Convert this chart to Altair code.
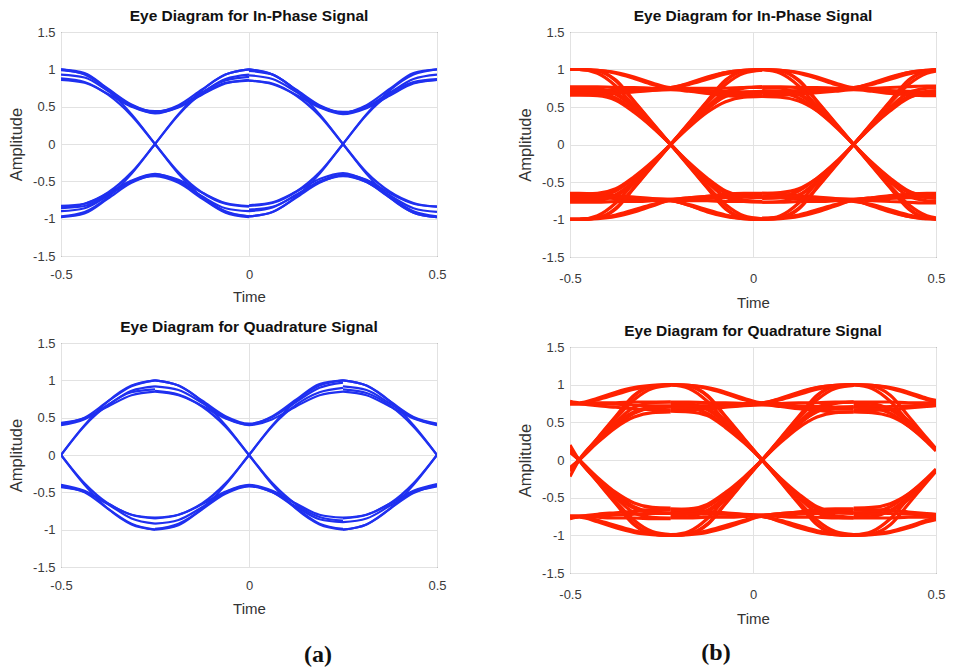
import altair as alt
import pandas as pd

# ---------------- x sample grids ----------------
BI_X_LEFT = [-0.5, -0.4375, -0.375, -0.3125, -0.25, -0.1875, -0.125, -0.0625, 0.0]
BI_X_RIGHT = [0.0, 0.0625, 0.125, 0.1875, 0.25, 0.3125, 0.375, 0.4375, 0.5]
BQ_X_LEFT = [-0.5, -0.4375, -0.375, -0.3125, -0.25]
BQ_X_MID = [-0.25, -0.1875, -0.125, -0.0625, 0.0, 0.0625, 0.125, 0.1875, 0.25]
BQ_X_RIGHT = [0.25, 0.3125, 0.375, 0.4375, 0.5]
RI_X_LEFT = [-0.5, -0.475, -0.425, -0.375, -0.325, -0.275, -0.225, -0.175, -0.125, -0.075, -0.025, 0.025]
RI_X_RIGHT = [0.025, 0.075, 0.125, 0.175, 0.225, 0.275, 0.325, 0.375, 0.425, 0.475, 0.5]
RQ_X_LEFT = [-0.5, -0.475, -0.425, -0.375, -0.325, -0.275, -0.225]
RQ_X_MID = [-0.225, -0.175, -0.125, -0.075, -0.025, 0.025, 0.075, 0.125, 0.175, 0.225, 0.275]
RQ_X_RIGHT = [0.275, 0.325, 0.375, 0.425, 0.475, 0.5]

# ---------------- (a) blue, in-phase ----------------
blue_i_left = [
    [1.00, 0.95, 0.74, 0.53, 0.43, 0.52, 0.73, 0.93, 1.00],
    [0.86, 0.82, 0.67, 0.50, 0.41, 0.50, 0.69, 0.87, 0.93],
    [0.93, 0.89, 0.71, 0.51, 0.42, 0.49, 0.66, 0.81, 0.86],
    [0.99, 0.94, 0.73, 0.52, 0.44, 0.50, 0.67, 0.82, 0.85],
    [-0.98, -0.93, -0.73, -0.52, -0.42, -0.50, -0.70, -0.86, -0.90],
    [-0.83, -0.80, -0.66, -0.49, -0.40, -0.50, -0.71, -0.90, -0.97],
    [-0.90, -0.86, -0.69, -0.50, -0.41, -0.48, -0.65, -0.79, -0.83],
    [-0.86, -0.83, -0.68, -0.50, -0.43, -0.52, -0.73, -0.92, -0.98],
    [1.00, 0.93, 0.72, 0.40, 0.00, -0.40, -0.71, -0.91, -0.97],
    [0.88, 0.83, 0.66, 0.38, 0.00, -0.38, -0.65, -0.80, -0.84],
    [-0.97, -0.91, -0.71, -0.40, 0.00, 0.40, 0.72, 0.93, 1.00],
    [-0.85, -0.80, -0.65, -0.38, 0.00, 0.39, 0.68, 0.85, 0.90],
]
blue_i_right = [
    [1.00, 0.93, 0.73, 0.52, 0.42, 0.50, 0.69, 0.87, 0.93],
    [0.92, 0.87, 0.70, 0.50, 0.42, 0.52, 0.74, 0.95, 1.00],
    [0.85, 0.80, 0.66, 0.49, 0.40, 0.48, 0.65, 0.81, 0.86],
    [0.98, 0.93, 0.72, 0.51, 0.43, 0.49, 0.66, 0.82, 0.86],
    [-0.97, -0.91, -0.72, -0.52, -0.42, -0.51, -0.72, -0.92, -0.98],
    [-0.90, -0.85, -0.68, -0.50, -0.41, -0.48, -0.66, -0.80, -0.84],
    [-0.82, -0.78, -0.64, -0.47, -0.39, -0.49, -0.69, -0.86, -0.91],
    [-0.88, -0.84, -0.69, -0.51, -0.43, -0.51, -0.71, -0.90, -0.97],
    [1.00, 0.93, 0.72, 0.40, 0.00, -0.40, -0.72, -0.92, -0.98],
    [0.85, 0.81, 0.65, 0.38, 0.00, -0.38, -0.64, -0.79, -0.84],
    [-0.97, -0.91, -0.71, -0.40, 0.00, 0.40, 0.72, 0.93, 1.00],
    [-0.83, -0.79, -0.64, -0.38, 0.00, 0.39, 0.67, 0.83, 0.87],
]

# ---------------- (a) blue, quadrature ----------------
blue_q_left = [
    [0.42, 0.50, 0.72, 0.92, 1.00],
    [0.40, 0.48, 0.67, 0.86, 0.92],
    [0.43, 0.49, 0.65, 0.80, 0.85],
    [-0.42, -0.50, -0.72, -0.92, -1.00],
    [-0.40, -0.48, -0.66, -0.85, -0.92],
    [-0.43, -0.49, -0.65, -0.80, -0.84],
    [0.00, 0.40, 0.72, 0.93, 1.00],
    [0.00, 0.39, 0.67, 0.84, 0.88],
    [0.00, -0.40, -0.72, -0.93, -1.00],
    [0.00, -0.38, -0.65, -0.80, -0.85],
]
blue_q_mid = [
    [1.00, 0.93, 0.73, 0.52, 0.42, 0.51, 0.71, 0.90, 0.97],
    [0.92, 0.87, 0.70, 0.50, 0.41, 0.52, 0.74, 0.95, 1.00],
    [0.85, 0.80, 0.66, 0.49, 0.40, 0.48, 0.65, 0.80, 0.85],
    [-1.00, -0.94, -0.73, -0.52, -0.42, -0.50, -0.69, -0.86, -0.90],
    [-0.92, -0.87, -0.70, -0.50, -0.41, -0.50, -0.71, -0.92, -0.99],
    [-0.84, -0.80, -0.66, -0.49, -0.40, -0.48, -0.65, -0.80, -0.84],
    [1.00, 0.93, 0.72, 0.40, 0.00, -0.40, -0.72, -0.93, -1.00],
    [0.86, 0.81, 0.65, 0.38, 0.00, -0.38, -0.66, -0.83, -0.88],
    [-0.99, -0.92, -0.72, -0.40, 0.00, 0.40, 0.72, 0.93, 1.00],
    [-0.85, -0.80, -0.65, -0.38, 0.00, 0.39, 0.67, 0.84, 0.90],
]
blue_q_right = [
    [1.00, 0.93, 0.72, 0.51, 0.42],
    [0.92, 0.87, 0.69, 0.50, 0.41],
    [0.85, 0.80, 0.65, 0.49, 0.40],
    [-1.00, -0.93, -0.72, -0.51, -0.41],
    [-0.90, -0.85, -0.68, -0.50, -0.42],
    [-0.84, -0.80, -0.65, -0.48, -0.39],
    [1.00, 0.93, 0.72, 0.40, 0.00],
    [0.88, 0.83, 0.66, 0.38, 0.00],
    [-1.00, -0.93, -0.72, -0.40, 0.00],
    [-0.85, -0.80, -0.65, -0.38, 0.00],
]

# ---------------- (b) red, in-phase ----------------
red_i_left = [
    [1.00, 1.00, 0.99, 0.96, 0.90, 0.82, 0.76, 0.82, 0.90, 0.96, 0.99, 1.00],
    [1.00, 1.00, 0.99, 0.95, 0.88, 0.80, 0.75, 0.72, 0.70, 0.69, 0.68, 0.68],
    [0.70, 0.70, 0.70, 0.71, 0.72, 0.74, 0.76, 0.81, 0.89, 0.96, 0.99, 1.00],
    [0.77, 0.77, 0.77, 0.76, 0.76, 0.75, 0.75, 0.75, 0.75, 0.75, 0.76, 0.76],
    [0.66, 0.66, 0.67, 0.68, 0.70, 0.72, 0.73, 0.71, 0.68, 0.65, 0.64, 0.64],
    [0.72, 0.72, 0.72, 0.72, 0.73, 0.73, 0.74, 0.73, 0.72, 0.71, 0.70, 0.70],
    [0.68, 0.68, 0.69, 0.70, 0.71, 0.73, 0.75, 0.80, 0.87, 0.94, 0.98, 0.99],
    [-1.00, -1.00, -0.99, -0.96, -0.90, -0.82, -0.75, -0.81, -0.90, -0.96, -0.99, -1.00],
    [-0.99, -0.99, -0.98, -0.94, -0.87, -0.80, -0.74, -0.71, -0.69, -0.68, -0.67, -0.67],
    [-0.71, -0.71, -0.71, -0.72, -0.73, -0.74, -0.75, -0.81, -0.89, -0.95, -0.99, -1.00],
    [-0.77, -0.77, -0.77, -0.76, -0.76, -0.75, -0.74, -0.75, -0.75, -0.76, -0.76, -0.76],
    [-0.65, -0.65, -0.66, -0.68, -0.70, -0.72, -0.73, -0.71, -0.69, -0.66, -0.65, -0.65],
    [-0.70, -0.70, -0.70, -0.71, -0.72, -0.73, -0.73, -0.73, -0.72, -0.71, -0.70, -0.70],
    [-0.68, -0.68, -0.69, -0.70, -0.71, -0.73, -0.75, -0.80, -0.87, -0.94, -0.98, -0.99],
    [1.00, 1.00, 0.98, 0.86, 0.58, 0.29, 0.00, -0.29, -0.58, -0.86, -0.98, -1.00],
    [0.70, 0.70, 0.69, 0.62, 0.45, 0.24, 0.00, -0.24, -0.45, -0.62, -0.69, -0.70],
    [1.00, 1.00, 0.98, 0.85, 0.57, 0.28, 0.00, -0.26, -0.48, -0.64, -0.70, -0.71],
    [0.76, 0.76, 0.75, 0.67, 0.49, 0.26, 0.00, -0.28, -0.57, -0.85, -0.98, -1.00],
    [0.66, 0.66, 0.65, 0.59, 0.43, 0.23, 0.00, -0.25, -0.47, -0.65, -0.74, -0.76],
    [1.00, 1.00, 0.95, 0.78, 0.51, 0.26, 0.00, -0.26, -0.50, -0.70, -0.76, -0.77],
    [0.73, 0.73, 0.72, 0.68, 0.52, 0.27, 0.00, -0.28, -0.55, -0.80, -0.95, -0.99],
    [-1.00, -1.00, -0.98, -0.86, -0.58, -0.29, 0.00, 0.29, 0.58, 0.86, 0.98, 1.00],
    [-0.70, -0.70, -0.69, -0.62, -0.45, -0.24, 0.00, 0.23, 0.43, 0.57, 0.63, 0.64],
    [-1.00, -1.00, -0.98, -0.85, -0.57, -0.28, 0.00, 0.26, 0.48, 0.64, 0.70, 0.71],
    [-0.76, -0.76, -0.75, -0.67, -0.49, -0.26, 0.00, 0.28, 0.57, 0.85, 0.98, 1.00],
    [-0.66, -0.66, -0.65, -0.59, -0.43, -0.23, 0.00, 0.25, 0.47, 0.66, 0.75, 0.77],
    [-1.00, -1.00, -0.95, -0.78, -0.51, -0.26, 0.00, 0.26, 0.50, 0.70, 0.76, 0.77],
    [-0.73, -0.73, -0.72, -0.68, -0.52, -0.27, 0.00, 0.28, 0.55, 0.80, 0.95, 0.99],
]
red_i_right = [
    [1.00, 0.99, 0.96, 0.90, 0.82, 0.76, 0.82, 0.90, 0.96, 0.99, 1.00],
    [1.00, 0.99, 0.95, 0.88, 0.80, 0.75, 0.72, 0.70, 0.69, 0.68, 0.68],
    [0.68, 0.68, 0.69, 0.71, 0.73, 0.75, 0.81, 0.89, 0.96, 0.99, 1.00],
    [0.77, 0.77, 0.76, 0.76, 0.75, 0.75, 0.75, 0.76, 0.77, 0.78, 0.78],
    [0.64, 0.65, 0.67, 0.69, 0.71, 0.73, 0.71, 0.68, 0.66, 0.65, 0.65],
    [0.71, 0.71, 0.72, 0.72, 0.73, 0.74, 0.73, 0.72, 0.71, 0.70, 0.70],
    [0.69, 0.70, 0.71, 0.72, 0.74, 0.76, 0.80, 0.87, 0.94, 0.98, 0.99],
    [-1.00, -0.99, -0.96, -0.90, -0.82, -0.75, -0.82, -0.90, -0.96, -0.99, -1.00],
    [-0.98, -0.97, -0.94, -0.87, -0.80, -0.74, -0.71, -0.69, -0.68, -0.67, -0.67],
    [-0.70, -0.70, -0.71, -0.72, -0.73, -0.75, -0.81, -0.89, -0.96, -0.99, -0.99],
    [-0.77, -0.77, -0.76, -0.76, -0.75, -0.74, -0.75, -0.76, -0.77, -0.78, -0.78],
    [-0.65, -0.66, -0.68, -0.70, -0.72, -0.73, -0.71, -0.68, -0.66, -0.65, -0.65],
    [-0.71, -0.71, -0.72, -0.72, -0.73, -0.73, -0.73, -0.72, -0.71, -0.70, -0.70],
    [-0.69, -0.70, -0.71, -0.72, -0.74, -0.76, -0.80, -0.87, -0.94, -0.98, -0.99],
    [1.00, 0.98, 0.86, 0.58, 0.29, 0.00, -0.29, -0.58, -0.86, -0.98, -0.99],
    [0.70, 0.69, 0.62, 0.45, 0.24, 0.00, -0.24, -0.45, -0.62, -0.69, -0.70],
    [1.00, 0.98, 0.85, 0.57, 0.28, 0.00, -0.26, -0.48, -0.64, -0.71, -0.72],
    [0.64, 0.63, 0.58, 0.45, 0.25, 0.00, -0.28, -0.57, -0.85, -0.98, -0.99],
    [0.76, 0.75, 0.67, 0.49, 0.26, 0.00, -0.25, -0.46, -0.63, -0.68, -0.69],
    [1.00, 0.95, 0.78, 0.51, 0.26, 0.00, -0.26, -0.50, -0.69, -0.75, -0.76],
    [0.72, 0.71, 0.67, 0.52, 0.27, 0.00, -0.28, -0.55, -0.80, -0.95, -0.98],
    [-1.00, -0.98, -0.86, -0.58, -0.29, 0.00, 0.29, 0.58, 0.86, 0.98, 1.00],
    [-0.70, -0.69, -0.62, -0.45, -0.24, 0.00, 0.24, 0.45, 0.62, 0.69, 0.70],
    [-0.99, -0.97, -0.85, -0.57, -0.28, 0.00, 0.26, 0.48, 0.64, 0.71, 0.72],
    [-0.65, -0.64, -0.59, -0.45, -0.25, 0.00, 0.28, 0.57, 0.85, 0.98, 0.99],
    [-0.77, -0.76, -0.68, -0.49, -0.26, 0.00, 0.25, 0.46, 0.63, 0.68, 0.69],
    [-1.00, -0.95, -0.78, -0.51, -0.26, 0.00, 0.26, 0.50, 0.69, 0.75, 0.76],
    [-0.72, -0.71, -0.67, -0.52, -0.27, 0.00, 0.28, 0.55, 0.80, 0.95, 0.98],
]

# ---------------- (b) red, quadrature ----------------
red_q_left = [
    [0.78, 0.76, 0.82, 0.90, 0.96, 0.99, 1.00],
    [0.74, 0.74, 0.75, 0.74, 0.73, 0.72, 0.72],
    [0.77, 0.75, 0.72, 0.70, 0.68, 0.67, 0.66],
    [0.75, 0.75, 0.76, 0.76, 0.77, 0.77, 0.77],
    [0.76, 0.75, 0.80, 0.87, 0.94, 0.98, 0.99],
    [-0.78, -0.76, -0.82, -0.90, -0.96, -0.99, -1.00],
    [-0.74, -0.74, -0.74, -0.73, -0.72, -0.71, -0.71],
    [-0.77, -0.75, -0.72, -0.70, -0.68, -0.66, -0.66],
    [-0.75, -0.75, -0.76, -0.77, -0.77, -0.78, -0.78],
    [-0.76, -0.75, -0.80, -0.87, -0.94, -0.98, -0.99],
    [-0.15, 0.00, 0.29, 0.58, 0.86, 0.98, 1.00],
    [-0.12, 0.00, 0.24, 0.45, 0.62, 0.69, 0.70],
    [-0.14, 0.00, 0.26, 0.48, 0.64, 0.70, 0.71],
    [-0.22, 0.00, 0.28, 0.57, 0.85, 0.98, 1.00],
    [-0.10, 0.00, 0.23, 0.43, 0.57, 0.63, 0.64],
    [-0.13, 0.00, 0.26, 0.50, 0.70, 0.76, 0.77],
    [-0.14, 0.00, 0.28, 0.55, 0.80, 0.95, 0.99],
    [0.15, 0.00, -0.29, -0.58, -0.86, -0.98, -1.00],
    [0.12, 0.00, -0.24, -0.45, -0.62, -0.69, -0.70],
    [0.14, 0.00, -0.26, -0.48, -0.64, -0.70, -0.71],
    [0.20, 0.00, -0.28, -0.57, -0.85, -0.98, -1.00],
    [0.10, 0.00, -0.23, -0.43, -0.57, -0.63, -0.64],
    [0.13, 0.00, -0.26, -0.50, -0.70, -0.76, -0.77],
    [0.14, 0.00, -0.28, -0.55, -0.80, -0.95, -0.99],
]
red_q_mid = [
    [1.00, 0.99, 0.96, 0.90, 0.82, 0.76, 0.82, 0.90, 0.96, 0.99, 1.00],
    [1.00, 0.99, 0.95, 0.88, 0.80, 0.75, 0.72, 0.70, 0.69, 0.68, 0.68],
    [0.71, 0.71, 0.72, 0.73, 0.74, 0.76, 0.81, 0.89, 0.96, 0.99, 1.00],
    [0.77, 0.77, 0.76, 0.76, 0.75, 0.75, 0.75, 0.76, 0.76, 0.77, 0.77],
    [0.66, 0.67, 0.68, 0.70, 0.72, 0.73, 0.71, 0.68, 0.66, 0.64, 0.64],
    [0.72, 0.72, 0.72, 0.73, 0.73, 0.74, 0.73, 0.72, 0.71, 0.70, 0.70],
    [0.68, 0.69, 0.70, 0.71, 0.73, 0.75, 0.80, 0.87, 0.94, 0.98, 0.99],
    [-1.00, -0.99, -0.96, -0.90, -0.82, -0.75, -0.82, -0.90, -0.96, -0.99, -1.00],
    [-0.99, -0.98, -0.94, -0.87, -0.80, -0.74, -0.71, -0.69, -0.68, -0.67, -0.67],
    [-0.70, -0.70, -0.71, -0.72, -0.73, -0.75, -0.81, -0.89, -0.95, -0.99, -1.00],
    [-0.77, -0.77, -0.76, -0.76, -0.75, -0.74, -0.75, -0.76, -0.76, -0.77, -0.77],
    [-0.65, -0.66, -0.68, -0.70, -0.72, -0.73, -0.71, -0.69, -0.66, -0.65, -0.65],
    [-0.71, -0.71, -0.72, -0.72, -0.73, -0.73, -0.73, -0.72, -0.71, -0.70, -0.70],
    [-0.68, -0.69, -0.70, -0.71, -0.73, -0.75, -0.80, -0.87, -0.94, -0.98, -0.99],
    [1.00, 0.98, 0.86, 0.58, 0.29, 0.00, -0.29, -0.58, -0.86, -0.98, -1.00],
    [0.70, 0.69, 0.62, 0.45, 0.24, 0.00, -0.24, -0.45, -0.62, -0.69, -0.70],
    [1.00, 0.98, 0.85, 0.57, 0.28, 0.00, -0.26, -0.48, -0.64, -0.70, -0.71],
    [0.76, 0.75, 0.67, 0.49, 0.26, 0.00, -0.28, -0.57, -0.85, -0.98, -1.00],
    [0.65, 0.64, 0.59, 0.43, 0.23, 0.00, -0.25, -0.47, -0.65, -0.74, -0.76],
    [1.00, 0.95, 0.78, 0.51, 0.26, 0.00, -0.26, -0.50, -0.70, -0.76, -0.77],
    [0.73, 0.72, 0.68, 0.52, 0.27, 0.00, -0.28, -0.55, -0.80, -0.95, -0.99],
    [-1.00, -0.98, -0.86, -0.58, -0.29, 0.00, 0.29, 0.58, 0.86, 0.98, 1.00],
    [-0.70, -0.69, -0.62, -0.45, -0.24, 0.00, 0.23, 0.43, 0.57, 0.63, 0.64],
    [-1.00, -0.98, -0.85, -0.57, -0.28, 0.00, 0.26, 0.48, 0.64, 0.70, 0.71],
    [-0.76, -0.75, -0.67, -0.49, -0.26, 0.00, 0.28, 0.57, 0.85, 0.98, 1.00],
    [-0.66, -0.65, -0.59, -0.43, -0.23, 0.00, 0.25, 0.47, 0.66, 0.75, 0.77],
    [-1.00, -0.95, -0.78, -0.51, -0.26, 0.00, 0.26, 0.50, 0.70, 0.76, 0.77],
    [-0.73, -0.72, -0.68, -0.52, -0.27, 0.00, 0.28, 0.55, 0.80, 0.95, 0.99],
]
red_q_right = [
    [1.00, 0.99, 0.96, 0.90, 0.82, 0.79],
    [1.00, 0.99, 0.95, 0.88, 0.80, 0.77],
    [0.70, 0.70, 0.71, 0.72, 0.73, 0.74],
    [0.66, 0.66, 0.67, 0.69, 0.71, 0.72],
    [0.77, 0.77, 0.77, 0.76, 0.76, 0.76],
    [-1.00, -0.99, -0.96, -0.90, -0.82, -0.79],
    [-0.99, -0.98, -0.95, -0.88, -0.80, -0.77],
    [-0.70, -0.70, -0.71, -0.72, -0.73, -0.74],
    [-0.66, -0.66, -0.67, -0.69, -0.71, -0.72],
    [-0.77, -0.77, -0.77, -0.76, -0.76, -0.76],
    [1.00, 0.98, 0.86, 0.58, 0.29, 0.15],
    [0.70, 0.69, 0.62, 0.45, 0.24, 0.12],
    [0.76, 0.75, 0.67, 0.49, 0.26, 0.13],
    [0.64, 0.63, 0.58, 0.45, 0.25, 0.13],
    [1.00, 0.95, 0.78, 0.51, 0.26, 0.13],
    [0.73, 0.72, 0.68, 0.52, 0.27, 0.14],
    [-1.00, -0.98, -0.86, -0.58, -0.29, -0.15],
    [-0.70, -0.69, -0.62, -0.45, -0.24, -0.12],
    [-0.76, -0.75, -0.67, -0.49, -0.26, -0.13],
    [-0.64, -0.63, -0.58, -0.45, -0.25, -0.13],
    [-1.00, -0.95, -0.78, -0.51, -0.26, -0.13],
    [-0.73, -0.72, -0.68, -0.52, -0.27, -0.14],
]

TITLE_I = "Eye Diagram for In-Phase Signal"
TITLE_Q = "Eye Diagram for Quadrature Signal"
X_TICKS = [-0.5, 0, 0.5]
Y_TICKS = [-1.5, -1, -0.5, 0, 0.5, 1, 1.5]
BLUE = "#1f30f0"
RED = "#ff2200"


def to_frame(parts):
    rows = []
    for tag, xs, segs in parts:
        for i, ys in enumerate(segs):
            for x, y in zip(xs, ys):
                rows.append({"x": x, "y": y, "seg": f"{tag}{i}"})
    return pd.DataFrame(rows)


def panel(parts, title, color, w, h, sw, xlp, xtp):
    df = to_frame(parts)
    return alt.Chart(df).mark_line(
        color=color, strokeWidth=sw, interpolate="monotone", clip=True
    ).encode(
        x=alt.X("x:Q", scale=alt.Scale(domain=[-0.5, 0.5], nice=False, zero=False),
                axis=alt.Axis(values=X_TICKS, title="Time", labelFlush=False,
                              labelExpr="toString(datum.value)", labelPadding=xlp,
                              titlePadding=xtp, titleFontSize=15)),
        y=alt.Y("y:Q", scale=alt.Scale(domain=[-1.5, 1.5], nice=False),
                axis=alt.Axis(values=Y_TICKS, title="Amplitude", labelFlush=False,
                              labelExpr="toString(datum.value)", labelPadding=6,
                              titlePadding=8, titleFontSize=16.5)),
        detail="seg:N",
    ).properties(width=w, height=h, title=title)


p1 = panel([("L", BI_X_LEFT, blue_i_left), ("R", BI_X_RIGHT, blue_i_right)],
           TITLE_I, BLUE, 376, 224, 2.2, 12, 8)
p3 = panel([("L", BQ_X_LEFT, blue_q_left), ("M", BQ_X_MID, blue_q_mid), ("R", BQ_X_RIGHT, blue_q_right)],
           TITLE_Q, BLUE, 376, 224, 2.2, 12, 9)
p2 = panel([("L", RI_X_LEFT, red_i_left), ("R", RI_X_RIGHT, red_i_right)],
           TITLE_I, RED, 366, 225, 3.2, 15, 10)
p4 = panel([("L", RQ_X_LEFT, red_q_left), ("M", RQ_X_MID, red_q_mid), ("R", RQ_X_RIGHT, red_q_right)],
           TITLE_Q, RED, 366, 226, 3.2, 15, 10)


def label(txt, w, xpos, ypos):
    return alt.Chart(pd.DataFrame({"t": [txt]})).mark_text(
        font="Liberation Serif", fontWeight="bold", fontSize=24,
        align="center", baseline="middle", color="#111111"
    ).encode(text="t:N", x=alt.value(xpos), y=alt.value(ypos)).properties(
        width=w, height=26, view=alt.ViewBackground(stroke="transparent"))


left_col = alt.vconcat(p1, p3, label("(a)", 376, 257, 23), spacing=14)
right_col = alt.vconcat(p2, p4, label("(b)", 366, 146, 13), spacing=12)

chart = alt.hconcat(left_col, right_col, spacing=70).properties(
    padding=0, background="white"
).configure_axis(
    grid=True, gridColor="#e2e2e2", gridWidth=1, domain=False, ticks=False,
    labelFont="Liberation Sans", labelFontSize=13, labelColor="#3a3a3a",
    titleFont="Liberation Sans", titleFontWeight="normal",
    titleColor="#333333",
).configure_view(
    stroke="#333333", strokeWidth=1
).configure_title(
    font="Liberation Sans", fontSize=15.5, fontWeight="bold", color="#111111",
    anchor="middle", offset=2
)

chart.save("out.html", embed_options={"renderer": "svg", "actions": False})
